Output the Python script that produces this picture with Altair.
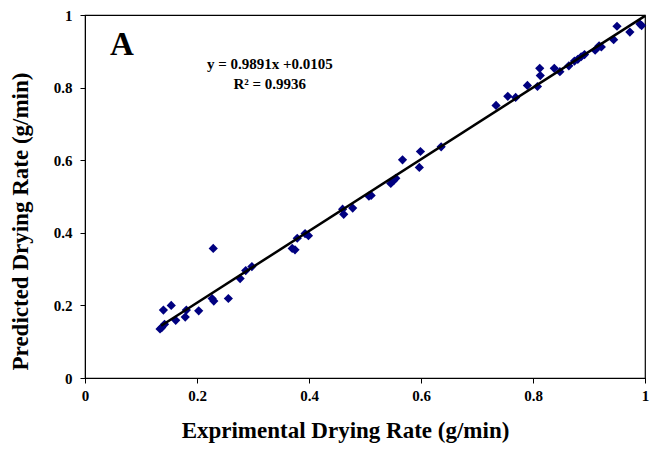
import altair as alt
import pandas as pd

experimental = [0.137, 0.134, 0.142, 0.140, 0.154, 0.162, 0.179, 0.181, 0.203, 0.229,
                0.227, 0.230, 0.256, 0.277, 0.287, 0.298, 0.370, 0.375, 0.379, 0.393,
                0.399, 0.460, 0.462, 0.478, 0.507, 0.511, 0.546, 0.551, 0.555, 0.567,
                0.599, 0.597, 0.636, 0.734, 0.755, 0.769, 0.790, 0.808, 0.812, 0.813,
                0.838, 0.848, 0.864, 0.874, 0.880, 0.886, 0.892, 0.911, 0.918, 0.922,
                0.944, 0.950, 0.973, 0.991, 0.994]
predicted = [0.139, 0.135, 0.148, 0.187, 0.200, 0.159, 0.168, 0.187, 0.185, 0.357,
             0.219, 0.212, 0.219, 0.274, 0.296, 0.307, 0.357, 0.353, 0.385, 0.398,
             0.392, 0.465, 0.451, 0.468, 0.501, 0.503, 0.536, 0.544, 0.550, 0.601,
             0.624, 0.580, 0.637, 0.751, 0.776, 0.773, 0.806, 0.803, 0.853, 0.833,
             0.853, 0.844, 0.860, 0.873, 0.878, 0.885, 0.891, 0.903, 0.915, 0.912,
             0.932, 0.969, 0.953, 0.975, 0.971]

tick_values = [0, 0.2, 0.4, 0.6, 0.8, 1]
equation_text = "y = 0.9891x +0.0105"
r2_text = "R\u00b2 = 0.9936"
panel_label = "A"

df = pd.DataFrame({"exp": experimental, "pred": predicted})
one = pd.DataFrame({"k": [0]})

FONT = "Liberation Serif"

xscale = alt.Scale(domain=[0, 1], nice=False, zero=False)
yscale = alt.Scale(domain=[0, 1], nice=False, zero=False)

xaxis = alt.Axis(values=tick_values, format="~g", grid=False, title="Exprimental Drying Rate (g/min)",
                 labelFont=FONT, labelFontSize=15, labelFontWeight="bold", labelColor="black",
                 titleFont=FONT, titleFontSize=23, titleFontWeight="bold", titleColor="black",
                 domainColor="black", tickColor="black", tickSize=5, labelPadding=5, titlePadding=16,
                 titleX=260, labelFlush=False)
yaxis = alt.Axis(values=tick_values, format="~g", grid=False, title="Predicted Drying Rate (g/min)",
                 labelFont=FONT, labelFontSize=15, labelFontWeight="bold", labelColor="black",
                 titleFont=FONT, titleFontSize=23, titleFontWeight="bold", titleColor="black",
                 domainColor="black", tickColor="black", tickSize=5, labelPadding=8, titlePadding=21,
                 titleY=206, labelFlush=False)

points = alt.Chart(df).mark_point(shape="diamond", filled=True, size=85, color="#000080", opacity=1).encode(
    x=alt.X("exp:Q", scale=xscale, axis=xaxis),
    y=alt.Y("pred:Q", scale=yscale, axis=yaxis),
)

trend = alt.Chart(df).transform_regression("exp", "pred", extent=[0.136, 1.0]).mark_line(
    color="black", strokeWidth=2.5
).encode(
    x=alt.X("exp:Q", scale=xscale),
    y=alt.Y("pred:Q", scale=yscale),
)

eq = alt.Chart(one).mark_text(font=FONT, fontSize=15, fontWeight="bold", color="black").encode(
    x=alt.datum(0.330, scale=xscale), y=alt.datum(0.865, scale=yscale), text=alt.value(equation_text)
)
r2 = alt.Chart(one).mark_text(font=FONT, fontSize=15, fontWeight="bold", color="black").encode(
    x=alt.datum(0.330, scale=xscale), y=alt.datum(0.810, scale=yscale), text=alt.value(r2_text)
)
lab = alt.Chart(one).mark_text(font=FONT, fontSize=33, fontWeight="bold", color="black").encode(
    x=alt.datum(0.066, scale=xscale), y=alt.datum(0.918, scale=yscale), text=alt.value(panel_label)
)

chart = alt.layer(points, trend, eq, r2, lab).properties(
    width=560, height=363,
    autosize=alt.AutoSizeParams(type="none"),
    padding={"left": 77, "top": 7, "right": 6, "bottom": 67},
    background="white",
).configure_view(stroke="black", strokeWidth=1.2)

chart.save("out.html", embed_options={"renderer": "svg", "actions": False})
